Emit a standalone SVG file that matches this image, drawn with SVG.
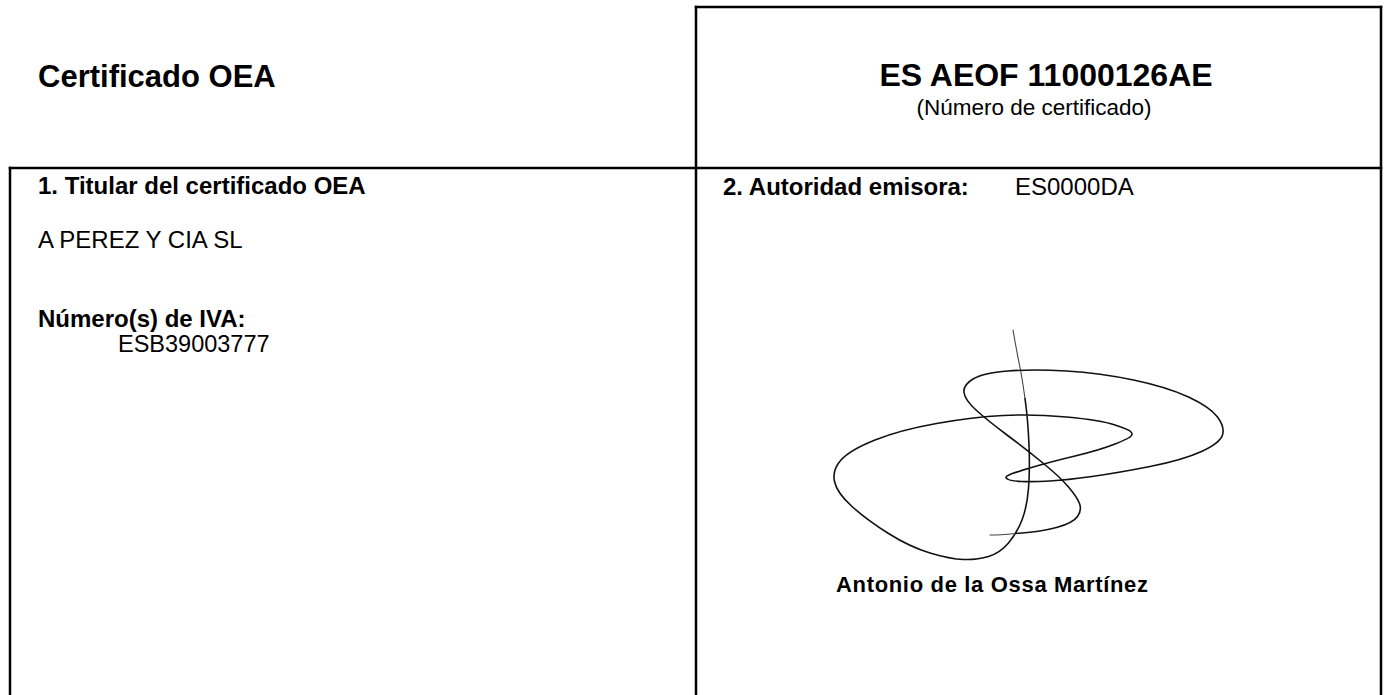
<svg xmlns="http://www.w3.org/2000/svg" width="1388" height="695" viewBox="0 0 1388 695">
  <style>
    .rule { stroke: #000; stroke-width: 2.5; fill: none; stroke-linecap: square; }
    .t { font-family: "Liberation Sans", Arial, Helvetica, sans-serif; fill: #000; }
    .b { font-weight: bold; }
    .sig { fill: none; stroke: #111; stroke-width: 1.6; stroke-linejoin: round; stroke-linecap: round; }
    .sig-thin { fill: none; stroke: #444; stroke-width: 1.1; stroke-linecap: round; }
  </style>
  <rect x="0" y="0" width="1388" height="695" fill="#fff"/>

  <g id="frame">
    <line class="rule" x1="696" y1="7" x2="1381" y2="7"/>
    <line class="rule" x1="696" y1="7" x2="696" y2="700"/>
    <line class="rule" x1="1381" y1="7" x2="1381" y2="700"/>
    <line class="rule" x1="10" y1="168" x2="1381" y2="168"/>
    <line class="rule" x1="10" y1="168" x2="10" y2="700"/>
  </g>

  <g id="title">
    <text class="t b" x="38" y="87" font-size="31">Certificado OEA</text>
  </g>

  <g id="certificate-number">
    <text class="t b" x="1046" y="86" font-size="32" text-anchor="middle">ES AEOF 11000126AE</text>
    <text class="t" x="1034" y="115" font-size="22.5" text-anchor="middle">(Número de certificado)</text>
  </g>

  <g id="holder">
    <text class="t b" x="38" y="194" font-size="24">1. Titular del certificado OEA</text>
    <text class="t" x="38" y="248" font-size="24">A PEREZ Y CIA SL</text>
    <text class="t b" x="38" y="327" font-size="24">Número(s) de IVA:</text>
    <text class="t" x="118" y="352" font-size="23.5">ESB39003777</text>
  </g>

  <g id="authority">
    <text class="t b" x="723" y="195" font-size="24">2. Autoridad emisora:</text>
    <text class="t" x="1015" y="195" font-size="24">ES0000DA</text>
    <path class="sig-thin" d="M1013,330 Q1017,353 1019.5,365 Q1022,377 1025,398.5"/>
    <path class="sig" d="M1025,398.5 Q1028,420 1029,445 Q1030,470 1028.5,488.5 Q1027,507 1022,520 Q1017,533 1008.5,543 Q1000,553 988.5,556.5 Q977,560 963.5,559.5 Q950,559 930,553 Q910,547 888.5,533.5 Q867,520 852,506.5 Q837,493 834.5,481.5 Q832,470 841,460 Q850,450 875,440 Q900,430 936.5,423.5 Q973,417 1003,415.5 Q1033,414 1066.5,417 Q1100,420 1115,425 Q1130,430 1131,432 Q1133,434 1131,436 Q1130,438 1115,444 Q1100,450 1075,456 Q1050,462 1031.5,467.5 Q1013,473 1009,475 Q1004,477 1007.5,479 Q1010,481 1021.5,481.5 Q1033,482 1050,481 Q1067,480 1092,476.5 Q1117,473 1150,466.5 Q1183,460 1201.5,451.5 Q1220,443 1222.5,435 Q1225,427 1217.5,417 Q1210,407 1188.5,397 Q1167,387 1133.5,380 Q1100,373 1066.5,371 Q1033,369 1008,371 Q983,373 973,379 Q963,385 964,392.5 Q965,400 976,410 Q987,420 1007,435 Q1027,450 1043.5,463.5 Q1060,477 1068.5,487 Q1077,497 1079.5,503.5 Q1082,510 1077.5,516.5 Q1073,523 1056.5,527.5 Q1040,532 1015,533.5"/>
    <path class="sig-thin" d="M1015,533.5 Q1000,535 990,535"/>
    <text class="t b" x="836" y="592" font-size="22" textLength="312" lengthAdjust="spacing">Antonio de la Ossa Martínez</text>
  </g>
</svg>
